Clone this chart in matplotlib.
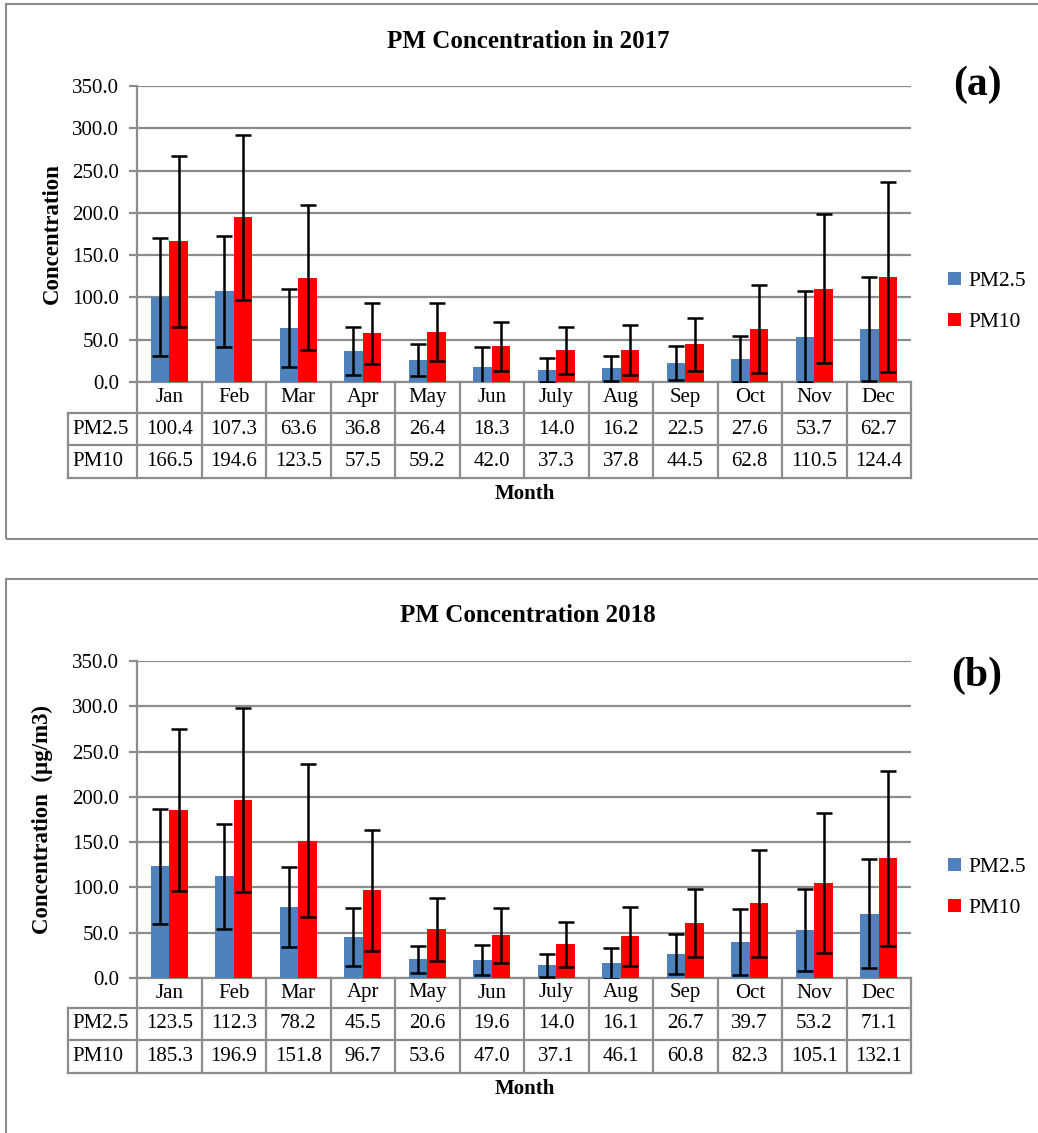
import matplotlib
matplotlib.use("Agg")
import matplotlib.pyplot as plt
from matplotlib.patches import Rectangle
from matplotlib.lines import Line2D
import matplotlib.transforms as mtransforms
import numpy as np

# ---- data ----
months = ["Jan", "Feb", "Mar", "Apr", "May", "Jun", "July", "Aug", "Sep", "Oct", "Nov", "Dec"]
series_names = ["PM2.5", "PM10"]

pm25_2017 = [100.4, 107.3, 63.6, 36.8, 26.4, 18.3, 14.0, 16.2, 22.5, 27.6, 53.7, 62.7]
pm10_2017 = [166.5, 194.6, 123.5, 57.5, 59.2, 42.0, 37.3, 37.8, 44.5, 62.8, 110.5, 124.4]
pm25_2017_sd = [70.0, 65.5, 46.0, 28.0, 19.0, 22.5, 14.4, 15.0, 20.5, 27.3, 54.0, 61.5]
pm10_2017_sd = [101.0, 97.7, 85.5, 36.5, 34.5, 29.2, 28.3, 29.5, 31.0, 52.0, 88.5, 112.0]

pm25_2018 = [123.5, 112.3, 78.2, 45.5, 20.6, 19.6, 14.0, 16.1, 26.7, 39.7, 53.2, 71.1]
pm10_2018 = [185.3, 196.9, 151.8, 96.7, 53.6, 47.0, 37.1, 46.1, 60.8, 82.3, 105.1, 132.1]
pm25_2018_sd = [63.4, 58.2, 44.5, 32.2, 15.0, 16.8, 12.4, 17.0, 22.2, 36.8, 45.4, 60.6]
pm10_2018_sd = [89.3, 101.4, 84.8, 66.5, 34.3, 30.3, 24.8, 32.7, 37.8, 59.5, 77.5, 96.8]

yticks = [0, 50, 100, 150, 200, 250, 300, 350]

# ---- style ----
W, H = 1038, 1133
BLUE = "#4f81bd"
RED = "#ff0000"
GRID = "#8c8c8c"
SERIF = ["Liberation Serif", "DejaVu Serif"]
plt.rcParams["font.family"] = SERIF
FS = 15

fig = plt.figure(figsize=(W / 100, H / 100), dpi=100)


def fy(y):
    return 1 - y / H


def fx(x):
    return x / W


def panel(top, ax_top, ax_bot, box_bottom, title, ylabel, tag, tag_y,
          pm25, pm10, sd25, sd10, leg_y, row_h, label_x):
    # outer frame of the panel
    fig.add_artist(Rectangle((fx(6), fy(box_bottom)), fx(1060) - fx(6),
                             fy(top) - fy(box_bottom), transform=fig.transFigure,
                             fill=False, edgecolor=GRID, lw=1.5))

    ax = fig.add_axes([fx(137), fy(ax_bot), fx(911) - fx(137), fy(ax_top) - fy(ax_bot)])
    x = np.arange(len(months))
    w = 0.29
    err_kw = dict(ecolor="black", elinewidth=1.8, capsize=6, capthick=1.8)
    ax.bar(x - w / 2, pm25, w, color=BLUE, yerr=sd25, error_kw=err_kw,
           label=series_names[0], zorder=3)
    ax.bar(x + w / 2, pm10, w, color=RED, yerr=sd10, error_kw=err_kw,
           label=series_names[1], zorder=3)
    ax.set_xlim(-0.5, len(months) - 0.5)
    ax.set_ylim(0, 350)
    ax.set_yticks(yticks)
    ax.set_yticklabels([f"{v:.1f}" for v in yticks], fontsize=FS)
    ax.set_xticks([])
    ax.yaxis.grid(True, color=GRID, lw=1.6, zorder=0)
    ax.set_axisbelow(True)
    for s in ["top", "right"]:
        ax.spines[s].set_visible(False)
    ax.spines["left"].set_color(GRID)
    ax.spines["left"].set_linewidth(1.6)
    ax.spines["bottom"].set_color(GRID)
    ax.spines["bottom"].set_linewidth(1.6)
    ax.tick_params(axis="y", length=6, width=1.6, color=GRID, pad=7)

    # data table under the axis
    bt = mtransforms.blended_transform_factory(ax.transData, fig.transFigure)
    r0 = ax_bot
    r1 = r0 + row_h[0]
    r2 = r1 + row_h[1]
    r3 = r2 + row_h[2]
    lkw = dict(color=GRID, lw=1.6)
    for b in np.arange(-0.5, len(months), 1.0):
        fig.add_artist(Line2D([b, b], [fy(r0), fy(r3)], transform=bt, **lkw))
    for yy in (r1, r2, r3):
        fig.add_artist(Line2D([fx(68), fx(911)], [fy(yy), fy(yy)],
                              transform=fig.transFigure, **lkw))
    fig.add_artist(Line2D([fx(68), fx(68)], [fy(r1), fy(r3)],
                          transform=fig.transFigure, **lkw))
    tkw = dict(ha="center", va="center", fontsize=FS)
    for i, m in enumerate(months):
        fig.text(i, fy((r0 + r1) / 2), m, transform=bt, **tkw)
        fig.text(i, fy((r1 + r2) / 2), f"{pm25[i]:.1f}", transform=bt, **tkw)
        fig.text(i, fy((r2 + r3) / 2), f"{pm10[i]:.1f}", transform=bt, **tkw)
    fig.text(fx(72), fy((r1 + r2) / 2), series_names[0], ha="left", va="center", fontsize=FS)
    fig.text(fx(72), fy((r2 + r3) / 2), series_names[1], ha="left", va="center", fontsize=FS)

    fig.text(fx(525), fy(r3 + 16), "Month", ha="center", va="center",
             fontsize=15, fontweight="bold")
    fig.text(fx(528), fy(top + 37), title, ha="center", va="center",
             fontsize=18, fontweight="bold")
    fig.text(fx(label_x), fy((ax_top + ax_bot) / 2), ylabel, ha="center", va="center",
             rotation=90, fontsize=16.5, fontweight="bold")
    fig.text(fx(977), fy(tag_y), tag, ha="center", va="center",
             fontsize=30, fontweight="bold")

    handles, labels = ax.get_legend_handles_labels()
    fig.legend(handles, labels, loc="upper left",
               bbox_to_anchor=(fx(939), fy(leg_y)), frameon=False,
               fontsize=15.5, handlelength=0.6, handleheight=0.6,
               handletextpad=0.35, labelspacing=1.0, borderaxespad=0)
    return ax


panel(4, 86, 382, 539, "PM Concentration in 2017", "Concentration", "(a)", 85,
      pm25_2017, pm10_2017, pm25_2017_sd, pm10_2017_sd, 263, (31, 32, 33), 52)
panel(579, 661, 978, 1200, "PM Concentration 2018", "Concentration  (\u00b5g/m3)", "(b)", 676,
      pm25_2018, pm10_2018, pm25_2018_sd, pm10_2018_sd, 849, (30, 32, 33), 42)

fig.savefig("out.png", dpi=100)
